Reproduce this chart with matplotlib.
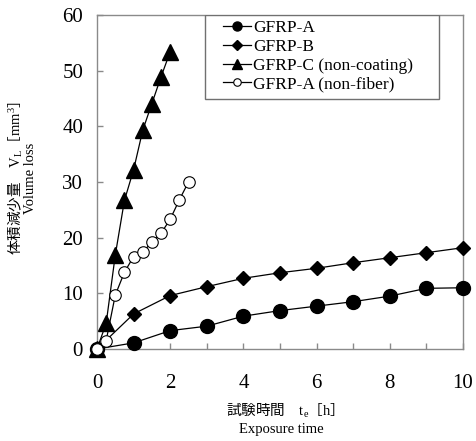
import matplotlib
matplotlib.use('Agg')
import matplotlib.pyplot as plt
from matplotlib.patches import Rectangle
import numpy as np

plt.rcParams['font.family'] = ['Liberation Serif', 'DejaVu Serif']
plt.rcParams['mathtext.fontset'] = 'custom'
plt.rcParams['mathtext.rm'] = 'Liberation Serif'
plt.rcParams['mathtext.it'] = 'Liberation Serif:italic'

# data
t_a = [0, 1, 2, 3, 4, 5, 6, 7, 8, 9, 10]
gfrp_a = [0, 1.1, 3.3, 4.1, 5.9, 6.9, 7.7, 8.5, 9.5, 10.9, 11.0]

t_b = [0, 1, 2, 3, 4, 5, 6, 7, 8, 9, 10]
gfrp_b = [0, 6.3, 9.6, 11.2, 12.7, 13.7, 14.5, 15.5, 16.4, 17.3, 18.2]

t_c = [0, 0.25, 0.5, 0.75, 1.0, 1.25, 1.5, 1.75, 2.0]
gfrp_c = [0, 4.6, 16.9, 26.7, 32.2, 39.3, 44.1, 48.9, 53.4]

t_nf = [0, 0.25, 0.5, 0.75, 1.0, 1.25, 1.5, 1.75, 2.0, 2.25, 2.5]
gfrp_nf = [0, 1.5, 9.7, 13.8, 16.6, 17.4, 19.2, 20.8, 23.3, 26.8, 30.0]

labels = ['GFRP-A', 'GFRP-B', 'GFRP-C (non-coating)', 'GFRP-A (non-fiber)']

xticks = np.arange(0, 11, 1)
xticklabels = [str(v) if v % 2 == 0 else '' for v in xticks]
yticks = np.arange(0, 61, 10)

fig = plt.figure(figsize=(4.76, 4.41), dpi=100)
ax = fig.add_axes([97 / 476, 1 - 349 / 441, 366 / 476, 334 / 441])

ax.plot(t_a, gfrp_a, color='black', lw=0.9, marker='o', ms=10,
        mfc='black', mec='black', label=labels[0], clip_on=False, zorder=4)
ax.plot(t_b, gfrp_b, color='black', lw=0.9, marker='D', ms=7.4,
        mfc='black', mec='black', label=labels[1], clip_on=False, zorder=4)
ax.plot(t_c, gfrp_c, color='black', lw=0.9, marker='^', ms=11.5,
        mfc='black', mec='black', label=labels[2], clip_on=False, zorder=4)
ax.plot(t_nf, gfrp_nf, color='black', lw=0.9, marker='o', ms=8.3,
        mfc='white', mec='black', mew=0.8, label=labels[3], clip_on=False, zorder=5)

ax.set_xlim(0, 10)
ax.set_ylim(0, 60)
ax.set_xticks(xticks)
ax.set_xticklabels(xticklabels)
ax.set_yticks(yticks)

for s in ax.spines.values():
    s.set_color('#8a8a8a')
    s.set_linewidth(1.0)
ax.tick_params(axis='both', direction='in', length=4, width=1.0,
               color='#8a8a8a', labelsize=15)
ax.tick_params(axis='x', pad=18)
ax.tick_params(axis='y', pad=10)

# legend with a separate frame
ax.add_patch(Rectangle((108 / 366, 1 - 84 / 334), 234 / 366, 84 / 334,
                       transform=ax.transAxes, facecolor='white',
                       edgecolor='#707070', lw=1.0, zorder=6))
leg = ax.legend(loc='upper left', bbox_to_anchor=(126 / 366, 1 - 5 / 334),
                frameon=False, fontsize=12.5, borderpad=0, borderaxespad=0,
                handlelength=1.6, handletextpad=0.15, labelspacing=0.15,
                markerscale=0.65)
leg.set_zorder(7)

jp = ['Noto Sans CJK JP', 'DejaVu Sans']
fig.text(15 / 476, 1 - 178 / 441,
         '体積減少量　$\\mathrm{V_L}$［$\\mathrm{mm^3}$］',
         rotation=90, ha='center', va='center', fontsize=10.5, family=jp)
fig.text(31 / 476, 1 - 178 / 441, 'Volume loss', rotation=90,
         ha='center', va='center', fontsize=10.5)
fig.text(281 / 476, 1 - 411 / 441,
         '試験時間　$\\mathrm{t_e}$［$\\mathrm{h}$］',
         ha='center', va='center', fontsize=10.5, family=jp)
fig.text(281 / 476, 1 - 430 / 441, 'Exposure time',
         ha='center', va='center', fontsize=10.5)

fig.savefig('out.png', dpi=100)
